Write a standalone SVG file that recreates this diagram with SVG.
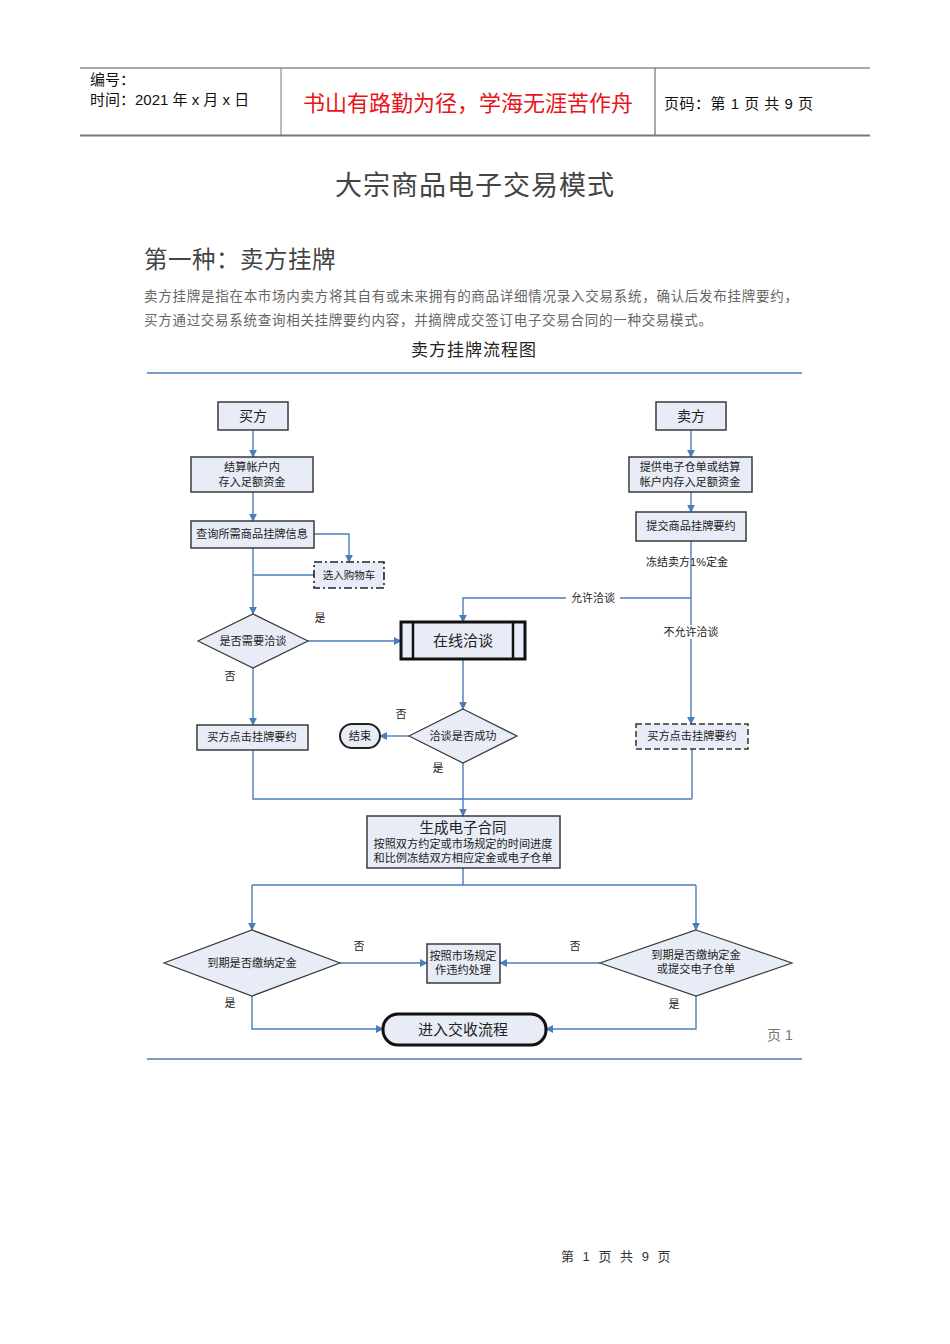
<svg xmlns="http://www.w3.org/2000/svg" width="950" height="1344" viewBox="0 0 950 1344">
<style>
text{font-family:"Liberation Sans","Noto Sans CJK SC",sans-serif}
.box{fill:#e8ecf6;stroke:#3a3a3a;stroke-width:1.5}
.dia{fill:#e8ecf6;stroke:#3a3a3a;stroke-width:1.2}
.t{font-size:11.2px;fill:#222;text-anchor:middle}
.big{font-size:15px}
.sm{font-size:10.5px}
.ct{font-size:11.2px}
.lbl{font-size:11px;fill:#222;text-anchor:middle}
.c{fill:none;stroke:#4a7ebb;stroke-width:1.4}
</style>
<defs>
<marker id="ah" viewBox="0 0 10 10" refX="9" refY="5" markerWidth="8" markerHeight="8" markerUnits="userSpaceOnUse" orient="auto">
<path d="M0,0 L10,5 L0,10 z" fill="#4a7ebb"/>
</marker>
</defs>
<rect width="950" height="1344" fill="#fff"/>
<!-- header -->
<g id="header">
<line x1="80" y1="68" x2="870" y2="68" stroke="#555" stroke-width="1"/>
<line x1="80" y1="135.5" x2="870" y2="135.5" stroke="#777" stroke-width="2"/>
<line x1="281" y1="68" x2="281" y2="135" stroke="#777" stroke-width="1"/>
<line x1="655" y1="68" x2="655" y2="135" stroke="#555" stroke-width="1"/>
<text x="90" y="85" font-size="15" fill="#111">编号：</text>
<text x="90" y="105" font-size="15" fill="#111">时间：2021 年 x 月 x 日</text>
<text x="468" y="111" font-size="22" fill="#e8141a" text-anchor="middle">书山有路勤为径，学海无涯苦作舟</text>
<text x="664" y="109" font-size="15" fill="#111" letter-spacing="0.5">页码：第 1 页  共 9 页</text>
</g>
<text x="475" y="195" font-size="27" fill="#444" text-anchor="middle" letter-spacing="1">大宗商品电子交易模式</text>
<text x="144" y="268" font-size="23.5" fill="#444" letter-spacing="0.5">第一种：卖方挂牌</text>
<text x="144" y="301" font-size="13.5" fill="#666" textLength="654" lengthAdjust="spacing">卖方挂牌是指在本市场内卖方将其自有或未来拥有的商品详细情况录入交易系统，确认后发布挂牌要约，</text>
<text x="144" y="325" font-size="13.5" fill="#666" textLength="568" lengthAdjust="spacing">买方通过交易系统查询相关挂牌要约内容，并摘牌成交签订电子交易合同的一种交易模式。</text>
<text x="474" y="356" font-size="17" fill="#222" text-anchor="middle" letter-spacing="1">卖方挂牌流程图</text>
<line x1="147" y1="373" x2="802" y2="373" stroke="#7a9bc9" stroke-width="2"/>
<line x1="147" y1="1059" x2="802" y2="1059" stroke="#7a9bc9" stroke-width="2"/>

<!-- connectors -->
<g id="connectors">
<path class="c" d="M253,430 V457" marker-end="url(#ah)"/>
<path class="c" d="M253,492 V521" marker-end="url(#ah)"/>
<path class="c" d="M314,534 H349 V562" marker-end="url(#ah)"/>
<path class="c" d="M314,575 H253"/>
<path class="c" d="M253,548 V614" marker-end="url(#ah)"/>
<path class="c" d="M308,641 H401" marker-end="url(#ah)"/>
<path class="c" d="M253,668 V725" marker-end="url(#ah)"/>
<path class="c" d="M463,659 V709" marker-end="url(#ah)"/>
<path class="c" d="M409,736 H380" marker-end="url(#ah)"/>
<path class="c" d="M253,750 V799 H692"/>
<path class="c" d="M463,763 V816" marker-end="url(#ah)"/>
<path class="c" d="M691,430 V457" marker-end="url(#ah)"/>
<path class="c" d="M691,492 V512" marker-end="url(#ah)"/>
<path class="c" d="M691,541 V724" marker-end="url(#ah)"/>
<path class="c" d="M691,598 H463 V622" marker-end="url(#ah)"/>
<path class="c" d="M692,749 V799"/>
<path class="c" d="M463,868 V885 M252,885 H696"/>
<path class="c" d="M252,885 V930" marker-end="url(#ah)"/>
<path class="c" d="M696,885 V930" marker-end="url(#ah)"/>
<path class="c" d="M340,963 H427" marker-end="url(#ah)"/>
<path class="c" d="M600,963 H500" marker-end="url(#ah)"/>
<path class="c" d="M252,996 V1029 H383" marker-end="url(#ah)"/>
<path class="c" d="M696,996 V1029 H546" marker-end="url(#ah)"/>
<rect x="566" y="591" width="54" height="14" fill="#fff"/>
<text class="lbl" x="593" y="602">允许洽谈</text>
<text class="lbl" x="687" y="566">冻结卖方1%定金</text>
<rect x="660" y="625" width="62" height="14" fill="#fff"/>
<text class="lbl" x="691" y="636">不允许洽谈</text>
<text class="lbl" x="320" y="622">是</text>
<text class="lbl" x="230" y="680">否</text>
<text class="lbl" x="401" y="718">否</text>
<text class="lbl" x="438" y="772">是</text>
<text class="lbl" x="359" y="950">否</text>
<text class="lbl" x="575" y="950">否</text>
<text class="lbl" x="230" y="1007">是</text>
<text class="lbl" x="674" y="1008">是</text>
</g>

<!-- nodes -->
<g id="n_buyer"><rect class="box" x="218" y="402" width="70" height="28"/><text class="t" x="253" y="421" style="font-size:14px">买方</text></g>
<g id="n_buyer_fund"><rect class="box" x="191" y="457" width="122" height="35"/><text class="t" x="252" y="471">结算帐户内</text><text class="t" x="252" y="486">存入足额资金</text></g>
<g id="n_query"><rect class="box" x="191" y="521" width="123" height="27"/><text class="t" x="252" y="538">查询所需商品挂牌信息</text></g>
<g id="n_cart"><rect x="314" y="562" width="70" height="26" fill="#e8ecf6" stroke="#222" stroke-width="1.6" stroke-dasharray="8,3,2,3"/><text class="t sm" x="349" y="579">选入购物车</text></g>
<g id="n_need"><polygon class="dia" points="253,614 308,641 253,668 198,641"/><text class="t" x="253" y="645">是否需要洽谈</text></g>
<g id="n_online"><rect x="401" y="622" width="124" height="37" fill="#e8ecf6" stroke="#111" stroke-width="3"/><line x1="413" y1="622" x2="413" y2="659" stroke="#111" stroke-width="2.5"/><line x1="513" y1="622" x2="513" y2="659" stroke="#111" stroke-width="2.5"/><text class="t big" x="463" y="646">在线洽谈</text></g>
<g id="n_success"><polygon class="dia" points="463,709 517,736 463,763 409,736"/><text class="t" x="463" y="740">洽谈是否成功</text></g>
<g id="n_end"><rect x="340" y="724" width="40" height="24" rx="12" fill="#e8ecf6" stroke="#222" stroke-width="2"/><text class="t" x="360" y="740">结束</text></g>
<g id="n_click_left"><rect class="box" x="197" y="725" width="111" height="25"/><text class="t" x="252" y="741">买方点击挂牌要约</text></g>
<g id="n_seller"><rect class="box" x="656" y="402" width="70" height="28"/><text class="t" x="691" y="421" style="font-size:14px">卖方</text></g>
<g id="n_seller_fund"><rect class="box" x="629" y="457" width="123" height="35"/><text class="t" x="690" y="471">提供电子仓单或结算</text><text class="t" x="690" y="486">帐户内存入足额资金</text></g>
<g id="n_submit"><rect class="box" x="636" y="512" width="110" height="29"/><text class="t" x="691" y="530">提交商品挂牌要约</text></g>
<g id="n_click_right"><rect x="636" y="724" width="112" height="25" fill="#e8ecf6" stroke="#333" stroke-width="1.5" stroke-dasharray="6,3"/><text class="t" x="692" y="740">买方点击挂牌要约</text></g>
<g id="n_contract"><rect class="box" x="367" y="816" width="193" height="52"/><text class="t" x="463" y="833" style="font-size:14.5px">生成电子合同</text><text class="t ct" x="463" y="848">按照双方约定或市场规定的时间进度</text><text class="t ct" x="463" y="862">和比例冻结双方相应定金或电子仓单</text></g>
<g id="n_due_left"><polygon class="dia" points="252,930 340,963 252,996 164,963"/><text class="t" x="252" y="967">到期是否缴纳定金</text></g>
<g id="n_due_right"><polygon class="dia" points="696,930 792,963 696,996 600,963"/><text class="t" x="696" y="959">到期是否缴纳定金</text><text class="t" x="696" y="973">或提交电子仓单</text></g>
<g id="n_breach"><rect class="box" x="427" y="944" width="73" height="39"/><text class="t" x="463" y="960">按照市场规定</text><text class="t" x="463" y="974">作违约处理</text></g>
<g id="n_delivery"><rect x="383" y="1014" width="163" height="31" rx="15" fill="#e8ecf6" stroke="#111" stroke-width="3"/><text class="t big" x="463" y="1035">进入交收流程</text></g>

<text x="767" y="1040" font-size="14" fill="#777">页 1</text>
<text x="617" y="1261" font-size="13" fill="#333" text-anchor="middle" letter-spacing="2.5">第 1 页 共 9 页</text>
</svg>
